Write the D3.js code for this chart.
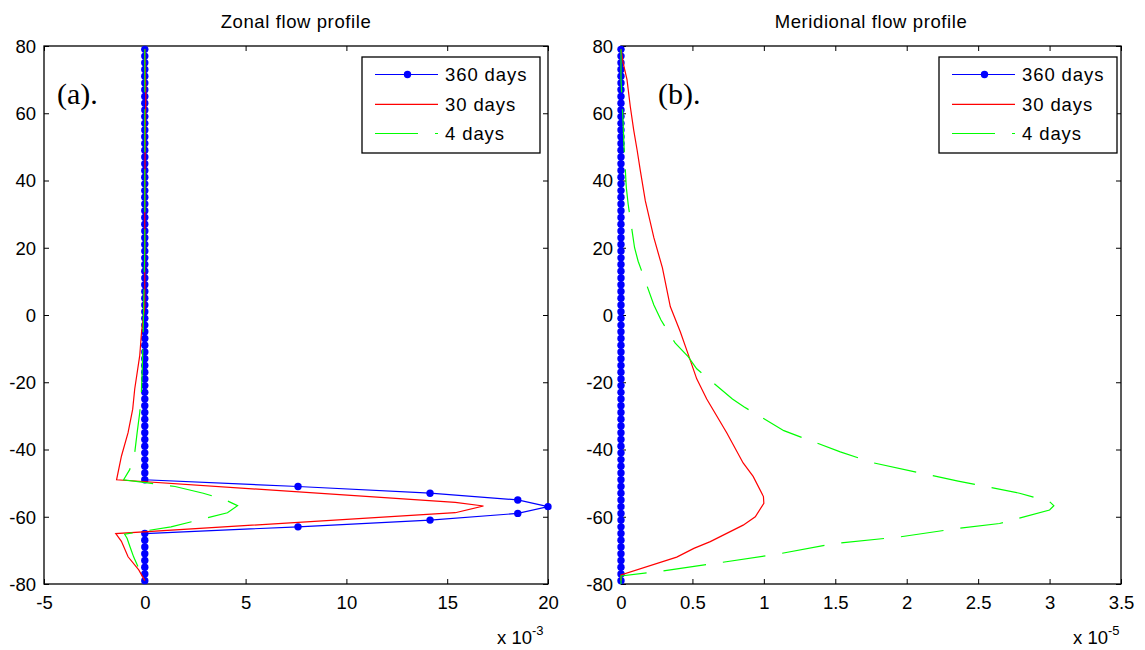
<!DOCTYPE html>
<html>
<head>
<meta charset="utf-8">
<script src="https://cdn.jsdelivr.net/npm/d3@7"></script>
<style>
  html, body { margin: 0; padding: 0; background: #fff; }
  svg { display: block; }
  text { font-family: "Liberation Sans", Arial, sans-serif; }
</style>
</head>
<body>
<svg id="chart" width="1145" height="650"></svg>
<script>
// ---------------- DATA ----------------
// latitude grid of the 360-day runs (degrees)
const latGrid = [-79,-77,-75,-73,-71,-69,-67,-65,-63,-61,-59,-57,-55,-53,-51,-49,-47,-45,-43,-41,
  -39,-37,-35,-33,-31,-29,-27,-25,-23,-21,-19,-17,-15,-13,-11,-9,-7,-5,-3,-1,
  1,3,5,7,9,11,13,15,17,19,21,23,25,27,29,31,33,35,37,39,
  41,43,45,47,49,51,53,55,57,59,61,63,65,67,69,71,73,75,77,79];

// Zonal flow (units of 1e-3)
const zonal360 = [0,0,0,0,0,0,0,0,7.6,14.15,18.5,20,18.5,14.15,7.6,0,0,0,0,0,
  0,0,0,0,0,0,0,0,0,0,0,0,0,0,0,0,0,0,0,0,
  0,0,0,0,0,0,0,0,0,0,0,0,0,0,0,0,0,0,0,0,
  0,0,0,0,0,0,0,0,0,0,0,0,0,0,0,0,0,0,0,0];
const zonal30Lat = [79,71,65,57,45,30,15,2.5,-5,-12,-22,-28,-35,-42,-49,-55.7,-56.8,-58.8,-65,-67.3,-71.9,-75.8,-79];
const zonal30Val = [0,0.03,0.05,0.03,0.01,0,0,0,-0.16,-0.25,-0.5,-0.6,-0.83,-1.16,-1.4,15.4,16.8,15.4,-1.44,-1.16,-0.83,-0.3,0];
const zonal4Lat = [79,60,40,20,5,-5,-15,-23,-29,-35,-41,-46,-49,-51,-53,-55,-56.7,-58.8,-61,-63,-65.2,-66.4,-69,-72,-76,-79];
const zonal4Val = [0,0,0,0,-0.05,-0.08,-0.12,-0.17,-0.25,-0.38,-0.5,-0.75,-1.05,1.5,2.9,4.0,4.6,4.1,2.65,1.3,-1.0,-0.88,-0.73,-0.55,-0.25,0];

// Meridional flow (units of 1e-5)
const merid360 = [0,0,0,0,0,0,0,0,0,0,0,0,0,0,0,0,0,0,0,0,
  0,0,0,0,0,0,0,0,0,0,0,0,0,0,0,0,0,0,0,0,
  0,0,0,0,0,0,0,0,0,0,0,0,0,0,0,0,0,0,0,0,
  0,0,0,0,0,0,0,0,0,0,0,0,0,0,0,0,0,0,0,0];
const merid30Lat = [79,75,70,62,55,49,43,34,23,14,2.5,-5,-12,-19,-25,-35,-44,-48,-54,-56,-60,-62.5,-67.4,-69.4,-72,-77.3,-79];
const merid30Val = [0,0.015,0.042,0.065,0.089,0.113,0.135,0.17,0.23,0.29,0.345,0.415,0.473,0.53,0.6,0.74,0.855,0.925,0.997,1.0,0.94,0.855,0.625,0.51,0.39,0,0];
const merid4Lat = [79,70,57,51,38,33,20,16,3,-1.5,-8.4,-12.4,-16,-25,-27.3,-34.4,-40.7,-44,-49.4,-53,-55.5,-56.7,-58,-62,-63.4,-66,-68,-71,-73.8,-76.3,-77.6,-80];
const merid4Val = [0,0,0.015,0.02,0.037,0.05,0.095,0.12,0.23,0.28,0.38,0.47,0.53,0.78,0.86,1.14,1.535,1.77,2.36,2.79,3.0,3.03,3.0,2.65,2.37,1.95,1.49,1.11,0.67,0.26,0,0];

// Axis ticks / labels
const yTicks = [-80,-60,-40,-20,0,20,40,60,80];
const zonalXTicks = [-5,0,5,10,15,20];
const meridXTicks = [0,0.5,1,1.5,2,2.5,3,3.5];
const seriesNames = ["360 days","30 days","4 days"];
const seriesColors = ["#0000ff","#ff0000","#00ff00"];
const panelTitles = ["Zonal flow profile","Meridional flow profile"];
const panelTags = ["(a).","(b)."];
const exponents = ["-3","-5"];

// ---------------- DRAW ----------------
const svg = d3.select("#chart");
svg.append("rect").attr("width",1145).attr("height",650).attr("fill","#fff");

const FS = 18.5;
const DASH = "43,17";
const fmt = d => String(d); // plain hyphen-minus like the original

function drawPanel(p) {
  const g = svg.append("g");
  const x = d3.scaleLinear().domain(p.xDomain).range([p.left, p.right]);
  const y = d3.scaleLinear().domain([-80, 80]).range([p.bottom, p.top]);

  g.append("rect").attr("x", p.left).attr("y", p.top)
    .attr("width", p.right - p.left).attr("height", p.bottom - p.top)
    .attr("fill", "none").attr("stroke", "#000").attr("stroke-width", 1.3);

  const TL = 5;
  const xAxisB = d3.axisBottom(x).tickValues(p.xTicks).tickSizeInner(-TL).tickSizeOuter(0).tickFormat(fmt);
  const gb = g.append("g").attr("transform", `translate(0,${p.bottom})`).call(xAxisB);
  const xAxisT = d3.axisTop(x).tickValues(p.xTicks).tickSizeInner(-TL).tickSizeOuter(0).tickFormat("");
  const gt = g.append("g").attr("transform", `translate(0,${p.top})`).call(xAxisT);
  const yAxisL = d3.axisLeft(y).tickValues(yTicks).tickSizeInner(-TL).tickSizeOuter(0).tickPadding(8).tickFormat(fmt);
  const gl = g.append("g").attr("transform", `translate(${p.left},0)`).call(yAxisL);
  const yAxisR = d3.axisRight(y).tickValues(yTicks).tickSizeInner(-TL).tickSizeOuter(0).tickFormat("");
  const gr = g.append("g").attr("transform", `translate(${p.right},0)`).call(yAxisR);
  [gb, gt, gl, gr].forEach(a => {
    a.select(".domain").remove();
    a.selectAll(".tick line").attr("stroke", "#000").attr("stroke-width", 1);
    a.selectAll(".tick text").attr("fill", "#000")
      .style("font-family", '"Liberation Sans", Arial, sans-serif').style("font-size", FS + "px");
  });
  gb.selectAll(".tick text").attr("dy", "0.71em").attr("y", 12);
  gl.selectAll(".tick text").attr("dy", "0.35em");

  g.append("text").attr("x", (p.left + p.right) / 2).attr("y", 28)
    .attr("text-anchor", "middle").style("font-size", FS + "px").style("letter-spacing", "0.6px").text(p.title);

  const ex = g.append("text").attr("x", p.expX).attr("y", 644).style("font-size", FS + "px");
  ex.append("tspan").text("x 10");
  ex.append("tspan").attr("dy", -9).style("font-size", "13px").text(p.exp);

  const line = d3.line().x(d => x(d[1])).y(d => y(d[0]));

  const d360 = latGrid.map((l, i) => [l, p.v360[i]]);
  g.append("path").datum(d360).attr("d", line).attr("fill", "none")
    .attr("stroke", seriesColors[0]).attr("stroke-width", 1.2);
  g.selectAll("circle.m").data(d360).enter().append("circle").attr("class", "m")
    .attr("cx", d => x(d[1])).attr("cy", d => y(d[0])).attr("r", 3.7).attr("fill", seriesColors[0]);

  const d30 = p.lat30.map((l, i) => [l, p.v30[i]]);
  g.append("path").datum(d30).attr("d", line).attr("fill", "none")
    .attr("stroke", seriesColors[1]).attr("stroke-width", 1.2);

  const d4 = p.lat4.map((l, i) => [l, p.v4[i]]);
  g.append("path").datum(d4).attr("d", line).attr("fill", "none")
    .attr("stroke", seriesColors[2]).attr("stroke-width", 1.2).attr("stroke-dasharray", DASH);

  g.append("text").attr("x", p.tagX).attr("y", 104)
    .style("font-family", '"Liberation Serif", "Times New Roman", serif').style("font-size", "30px").text(p.tag);

  const lg = g.append("g").attr("transform", `translate(${p.legX},57)`);
  lg.append("rect").attr("x", 0).attr("y", 0).attr("width", 178).attr("height", 96)
    .attr("fill", "#fff").attr("stroke", "#000").attr("stroke-width", 1.3);
  const rowsY = [17.5, 47.3, 76.5];
  seriesNames.forEach((nm, i) => {
    lg.append("line").attr("x1", 13).attr("x2", 76).attr("y1", rowsY[i]).attr("y2", rowsY[i])
      .attr("stroke", seriesColors[i]).attr("stroke-width", 1.2)
      .attr("stroke-dasharray", i === 2 ? DASH : null);
    if (i === 0) lg.append("circle").attr("cx", 45.5).attr("cy", rowsY[i]).attr("r", 3.7).attr("fill", seriesColors[0]);
    lg.append("text").attr("x", 83).attr("y", rowsY[i]).attr("dy", "0.35em")
      .style("font-size", FS + "px").style("letter-spacing", "0.9px").text(nm);
  });
}

drawPanel({
  left: 44, right: 548, top: 46, bottom: 584,
  xDomain: [-5, 20], xTicks: zonalXTicks,
  title: panelTitles[0], exp: exponents[0], expX: 497,
  v360: zonal360, lat30: zonal30Lat, v30: zonal30Val, lat4: zonal4Lat, v4: zonal4Val,
  tag: panelTags[0], tagX: 57, legX: 362
});
drawPanel({
  left: 621, right: 1121, top: 46, bottom: 584,
  xDomain: [0, 3.5], xTicks: meridXTicks,
  title: panelTitles[1], exp: exponents[1], expX: 1073,
  v360: merid360, lat30: merid30Lat, v30: merid30Val, lat4: merid4Lat, v4: merid4Val,
  tag: panelTags[1], tagX: 658, legX: 939
});
</script>
</body>
</html>
